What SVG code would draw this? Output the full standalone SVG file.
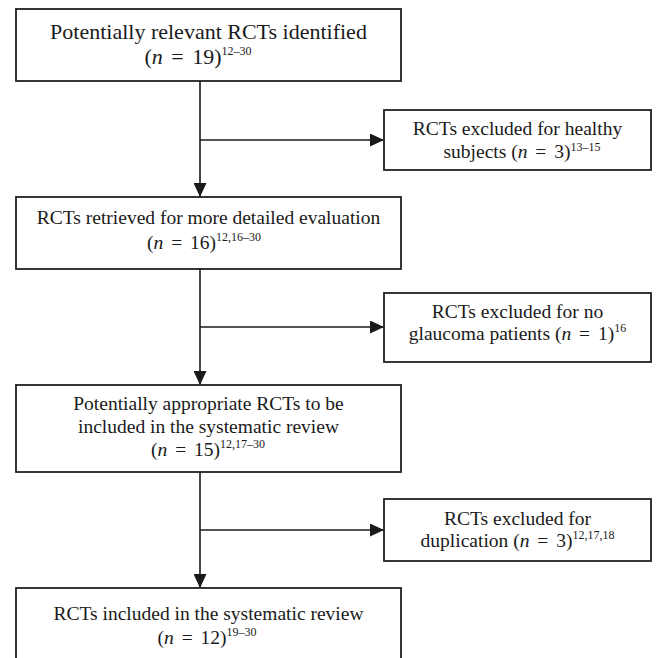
<svg xmlns="http://www.w3.org/2000/svg" width="657" height="658" viewBox="0 0 657 658">
<defs>
<marker id="ah" markerUnits="userSpaceOnUse" markerWidth="14" markerHeight="13" refX="14" refY="6.5" orient="auto">
<path d="M0,0 L14,6.5 L0,13 Z" fill="#1a1a1a"/>
</marker>
</defs>
<style>
.box{fill:#fff;stroke:#222;stroke-width:1.8}
text{font-family:'Liberation Serif','DejaVu Serif',serif;font-size:19.5px;fill:#1a1a1a}
.big{font-size:22px}
.i{font-style:italic}
.eq{word-spacing:3px}
.sup{font-size:12px}
.c{stroke:#1a1a1a;stroke-width:1.6;fill:none}
</style>
<rect width="657" height="658" fill="#fff"/>
<g id="connectors">
<line class="c" x1="200" y1="81" x2="200" y2="197" marker-end="url(#ah)"/>
<line class="c" x1="200" y1="140" x2="384" y2="140" marker-end="url(#ah)"/>
<line class="c" x1="200" y1="269" x2="200" y2="385" marker-end="url(#ah)"/>
<line class="c" x1="200" y1="327" x2="384" y2="327" marker-end="url(#ah)"/>
<line class="c" x1="200" y1="472" x2="200" y2="588" marker-end="url(#ah)"/>
<line class="c" x1="200" y1="530" x2="384" y2="530" marker-end="url(#ah)"/>
</g>
<g id="n1">
<rect class="box" x="16" y="9" width="385" height="72"/>
<text class="big" x="208.5" y="39" text-anchor="middle">Potentially relevant RCTs identified</text>
<text class="big" x="198" y="64" text-anchor="middle">(<tspan class="i">n</tspan><tspan class="eq"> = </tspan>19)<tspan class="sup" font-size="13px" dy="-9">12–30</tspan></text>
</g>
<g id="n2">
<rect class="box" x="384" y="110" width="267" height="60"/>
<text x="517.5" y="135" text-anchor="middle">RCTs excluded for healthy</text>
<text x="522" y="158" text-anchor="middle">subjects (<tspan class="i">n</tspan><tspan class="eq"> = </tspan>3)<tspan class="sup" dy="-7">13–15</tspan></text>
</g>
<g id="n3">
<rect class="box" x="16" y="197" width="385" height="72"/>
<text x="208.5" y="224" text-anchor="middle">RCTs retrieved for more detailed evaluation</text>
<text x="204" y="249" text-anchor="middle">(<tspan class="i">n</tspan><tspan class="eq"> = </tspan>16)<tspan class="sup" dy="-8">12,16–30</tspan></text>
</g>
<g id="n4">
<rect class="box" x="384" y="293" width="267" height="69"/>
<text x="517.5" y="318" text-anchor="middle">RCTs excluded for no</text>
<text x="517.5" y="340" text-anchor="middle">glaucoma patients (<tspan class="i">n</tspan><tspan class="eq"> = </tspan>1)<tspan class="sup" dy="-8">16</tspan></text>
</g>
<g id="n5">
<rect class="box" x="16" y="385" width="385" height="87"/>
<text x="208.5" y="410" text-anchor="middle">Potentially appropriate RCTs to be</text>
<text x="208.5" y="433" text-anchor="middle">included in the systematic review</text>
<text x="208" y="456" text-anchor="middle">(<tspan class="i">n</tspan><tspan class="eq"> = </tspan>15)<tspan class="sup" dy="-8">12,17–30</tspan></text>
</g>
<g id="n6">
<rect class="box" x="384" y="499" width="267" height="62"/>
<text x="517.5" y="525" text-anchor="middle">RCTs excluded for</text>
<text x="517.5" y="547" text-anchor="middle">duplication (<tspan class="i">n</tspan><tspan class="eq"> = </tspan>3)<tspan class="sup" dy="-8">12,17,18</tspan></text>
</g>
<g id="n7">
<rect class="box" x="16" y="588" width="385" height="80"/>
<text x="208.5" y="620" text-anchor="middle">RCTs included in the systematic review</text>
<text x="207" y="644" text-anchor="middle">(<tspan class="i">n</tspan><tspan class="eq"> = </tspan>12)<tspan class="sup" dy="-8">19–30</tspan></text>
</g>
</svg>
